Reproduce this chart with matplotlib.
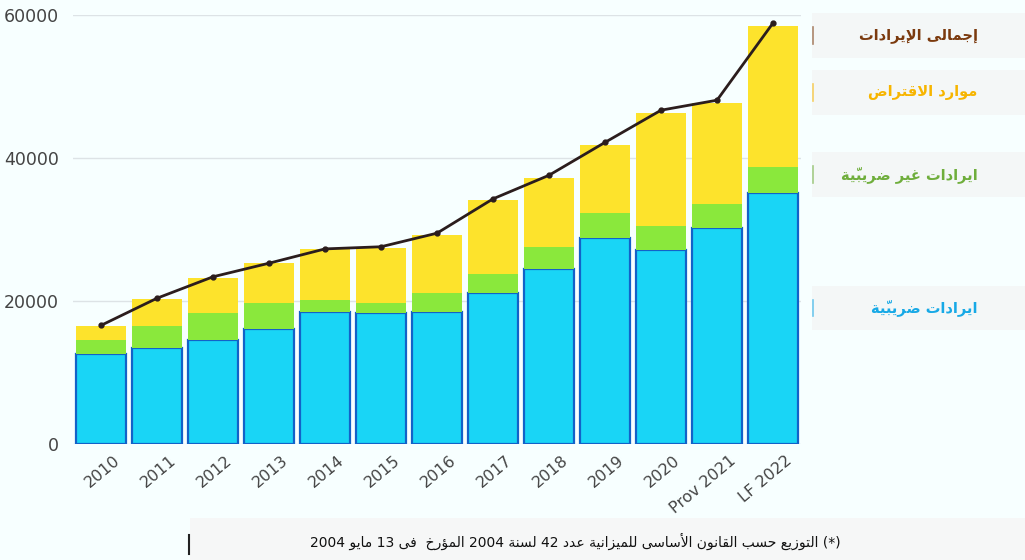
import numpy as np
import matplotlib
matplotlib.use("Agg")
import matplotlib.pyplot as plt
from matplotlib.transforms import ScaledTranslation

# revenue breakdown, in thousands of dinars
years = ["2010", "2011", "2012", "2013", "2014", "2015", "2016", "2017",
         "2018", "2019", "2020", "Prov 2021", "LF 2022"]
tax_revenue = [12600, 13500, 14600, 16100, 18500, 18400, 18500, 21100,
               24500, 28800, 27100, 30200, 35100]
non_tax_revenue = [1900, 3000, 3700, 3700, 1600, 1400, 2600, 2700,
                   3100, 3500, 3400, 3400, 3600]
borrowing = [2000, 3800, 5000, 5500, 7200, 7600, 8100, 10300,
             9600, 9500, 15800, 14100, 19800]
total_revenue = [16600, 20400, 23400, 25300, 27300, 27600, 29500, 34300,
                 37600, 42200, 46700, 48100, 58900]
y_ticks = [0, 20000, 40000, 60000]

label_total = "إجمالى الإيرادات"
label_borrow = "موارد الاقتراض"
label_non_tax = "ايرادات غير ضريبيّة"
label_tax = "ايرادات ضريبيّة"
footnote = "(*) التوزيع حسب القانون الأساسى للميزانية عدد 42 لسنة 2004 المؤرخ  فى 13 مايو 2004"

# --- minimal Arabic shaping: contextual forms + right-to-left word order ---
FORMS = {'ء': (0xFE80, 1), 'آ': (0xFE81, 2), 'أ': (0xFE83, 2), 'ؤ': (0xFE85, 2),
         'إ': (0xFE87, 2), 'ئ': (0xFE89, 4), 'ا': (0xFE8D, 2), 'ب': (0xFE8F, 4),
         'ة': (0xFE93, 2), 'ت': (0xFE95, 4), 'ث': (0xFE99, 4), 'ج': (0xFE9D, 4),
         'ح': (0xFEA1, 4), 'خ': (0xFEA5, 4), 'د': (0xFEA9, 2), 'ذ': (0xFEAB, 2),
         'ر': (0xFEAD, 2), 'ز': (0xFEAF, 2), 'س': (0xFEB1, 4), 'ش': (0xFEB5, 4),
         'ص': (0xFEB9, 4), 'ض': (0xFEBD, 4), 'ط': (0xFEC1, 4), 'ظ': (0xFEC5, 4),
         'ع': (0xFEC9, 4), 'غ': (0xFECD, 4), 'ف': (0xFED1, 4), 'ق': (0xFED5, 4),
         'ك': (0xFED9, 4), 'ل': (0xFEDD, 4), 'م': (0xFEE1, 4), 'ن': (0xFEE5, 4),
         'ه': (0xFEE9, 4), 'و': (0xFEED, 2), 'ى': (0xFEEF, 2), 'ي': (0xFEF1, 4)}
LAM_ALEF = {'آ': 0xFEF5, 'أ': 0xFEF7, 'إ': 0xFEF9, 'ا': 0xFEFB}
MARKS = set(chr(c) for c in range(0x064B, 0x0653))


def shape_word(word):
    chars = list(word)
    n = len(chars)
    out = []
    prev_joins = False
    i = 0
    while i < n:
        c = chars[i]
        if c not in FORMS:
            out.append(c)
            if c not in MARKS:
                prev_joins = False
            i += 1
            continue
        j = i + 1
        while j < n and chars[j] in MARKS:
            j += 1
        nxt = chars[j] if j < n else None
        if c == 'ل' and nxt in LAM_ALEF:
            out.append(chr(LAM_ALEF[nxt] + (1 if prev_joins else 0)))
            out.extend(chars[i + 1:j])
            prev_joins = False
            i = j + 1
            continue
        base, cnt = FORMS[c]
        next_ok = cnt == 4 and nxt in FORMS
        if cnt == 1:
            form = 0
        elif prev_joins and next_ok:
            form = 3
        elif prev_joins:
            form = 1
        elif next_ok:
            form = 2
        else:
            form = 0
        out.append(chr(base + form))
        prev_joins = cnt == 4
        i += 1
    # reverse by clusters so marks stay after their base glyph
    clusters = []
    for ch in out:
        if ch in MARKS and clusters:
            clusters[-1] += ch
        else:
            clusters.append(ch)
    return "".join(reversed(clusters))


def rtl(text):
    words = text.split(" ")
    shaped = [shape_word(w) if any(ch in FORMS for ch in w) else w for w in words]
    return " ".join(reversed(shaped))


# --- figure ---
bg = "#f7ffff"
fig = plt.figure(figsize=(10.25, 5.6), dpi=100, facecolor=bg)
ax = fig.add_axes([0.0712, 0.207, 0.7103, 0.766], facecolor=bg)

x = np.arange(len(years))
tax = np.array(tax_revenue)
non_tax = np.array(non_tax_revenue)
loan = np.array(borrowing)

w = 0.88
ax.bar(x, tax, width=w, color="#19d5f6", edgecolor="#1262c8", linewidth=1.6, zorder=2)
ax.bar(x, non_tax, width=w, bottom=tax, color="#8ae83c", edgecolor="none", zorder=2)
ax.bar(x, loan, width=w, bottom=tax + non_tax, color="#fde32c", edgecolor="none", zorder=2)
ax.plot(x, total_revenue, color="#2b1d1d", linewidth=2, marker="o", markersize=3.5, zorder=4)

ax.set_xlim(-0.5, len(years) - 0.5)
ax.set_ylim(0, 60000)
ax.set_yticks(y_ticks)
ax.set_yticklabels([str(v) for v in y_ticks])
ax.yaxis.grid(True, color="#dde3e6", linewidth=1)
ax.set_axisbelow(True)
for s in ax.spines.values():
    s.set_visible(False)
ax.tick_params(axis="x", length=0, labelsize=11.5, colors="#444444")
ax.tick_params(axis="y", length=0, labelsize=12.5, colors="#444444", pad=10)

ax.set_xticks(x)
ax.set_xticklabels(years, rotation=40, ha="right", rotation_mode="anchor")
shift = ScaledTranslation(12 / 100, -4 / 100, fig.dpi_scale_trans)
for lbl in ax.get_xticklabels():
    lbl.set_transform(lbl.get_transform() + shift)

# right-hand series captions
captions = [(label_total, "#7b3a0e", 0.937),
            (label_borrow, "#f7b500", 0.835),
            (label_non_tax, "#6fae3c", 0.688),
            (label_tax, "#17a9e6", 0.450)]
for txt, col, yy in captions:
    fig.patches.append(plt.Rectangle((0.792, yy - 0.04), 0.208, 0.08, transform=fig.transFigure,
                                     facecolor="#f4f7f7", edgecolor="none", zorder=0))
    fig.add_artist(plt.Line2D([0.7935, 0.7935], [yy - 0.015, yy + 0.015],
                              color=col, linewidth=1.2, alpha=0.6))
    fig.text(0.954, yy, rtl(txt), color=col, fontsize=10.5, fontweight="bold",
             family="DejaVu Sans", ha="right", va="center")

# footnote
fig.patches.append(plt.Rectangle((0.185, 0.0), 0.815, 0.075, transform=fig.transFigure,
                                 facecolor="#f6f7f7", edgecolor="none", zorder=0))
fig.add_artist(plt.Line2D([0.1845, 0.1845], [0.01, 0.045], color="#222222", linewidth=1.5))
fig.text(0.82, 0.034, rtl(footnote), color="#111111", fontsize=10,
         family="DejaVu Sans", ha="right", va="center")

fig.savefig("out.png", dpi=100, facecolor=bg)
